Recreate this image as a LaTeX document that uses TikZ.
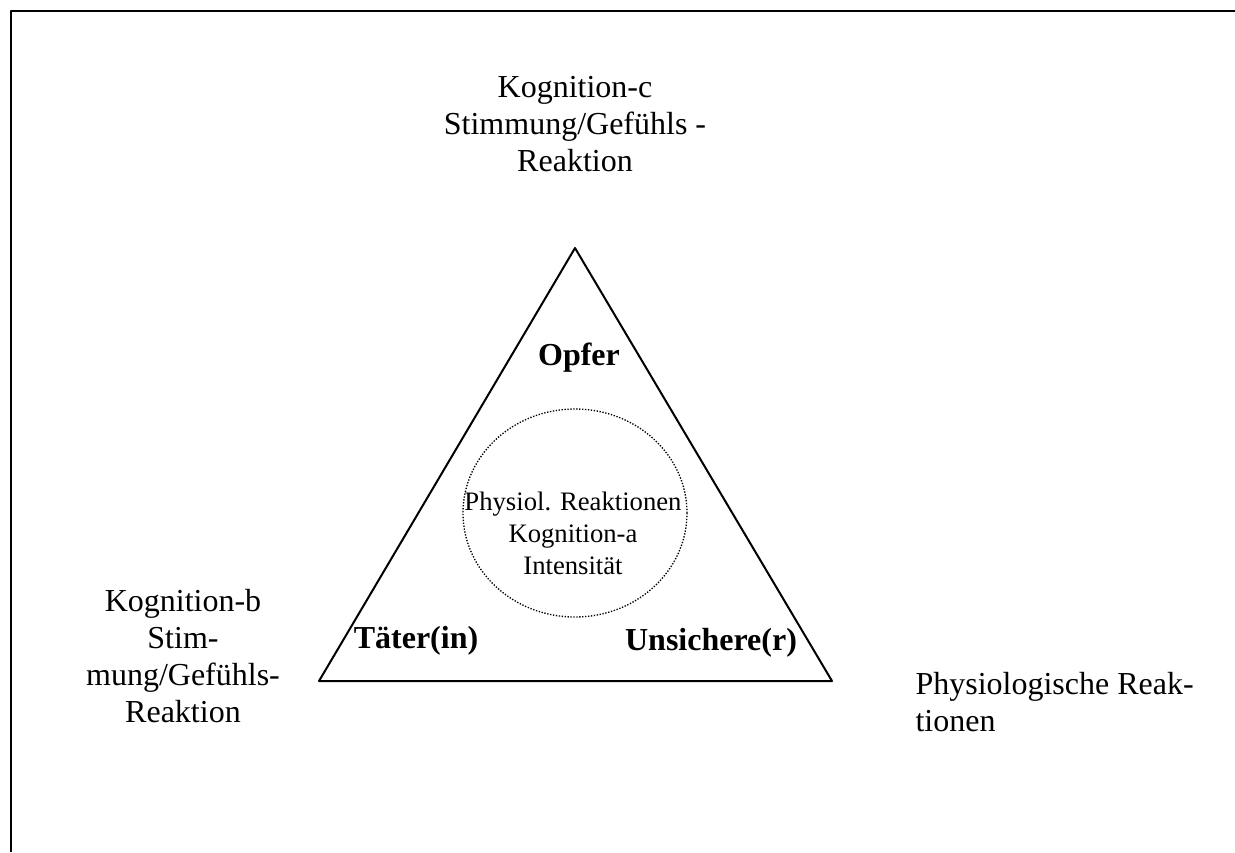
\documentclass[tikz,border=0pt]{standalone}
\usepackage{fontspec}
\setmainfont{Liberation Serif}
\usetikzlibrary{shapes.geometric}
\begin{document}
\begin{tikzpicture}[x=0.375pt,y=-0.375pt,line join=round,
 txt/.style={inner sep=0pt,align=center,font=\fontsize{12}{13.8}\selectfont},
 fett/.style={inner sep=0pt,font=\fontsize{12}{13.8}\selectfont\bfseries},
 klein/.style={inner sep=0pt,align=center,font=\fontsize{10}{12}\selectfont}]
 \useasboundingbox (0,0) rectangle (1235,852);
 \draw[line width=1.1pt] (11,852) |- (1235,11);
 \coordinate (spitze) at (575,248);
 \coordinate (links) at (319,681);
 \coordinate (rechts) at (832,681);
 \draw[line width=0.75pt] (spitze)--(links)--(rechts)--cycle;
 \node[draw,ellipse,line width=0.5pt,dash pattern=on 0.5pt off 0.6pt,
  minimum width=84pt,minimum height=78pt,inner sep=0pt] (kreis) at (575,513) {};
 \node[klein,anchor=north] (mitte) at (573,491)
  {Physiol. Reaktionen\\Kognition-a\\Intensität};
 \node[fett,anchor=base] (opfer) at (579,365) {Opfer};
 \node[fett,anchor=base] (taeter) at (416,648) {Täter(in)};
 \node[fett,anchor=base] (unsicher) at (711,650) {Unsichere(r)};
 \node[txt,anchor=north] (kogc) at (575,76)
  {Kognition-c\\Stimmung/Gefühls -\\Reaktion};
 \node[txt,anchor=north] (kogb) at (183,589)
  {Kognition-b\\Stim-\\mung/Gefühls-\\Reaktion};
 \node[txt,align=left,anchor=north west] (physio) at (915,672)
  {Physiologische Reak-\\tionen};
\end{tikzpicture}
\end{document}
